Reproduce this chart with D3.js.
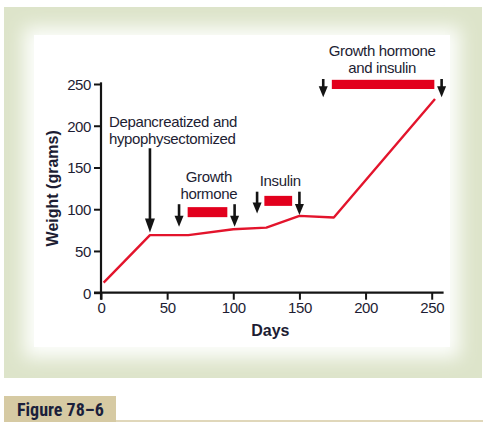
<!DOCTYPE html>
<html><head><meta charset="utf-8">
<script src="https://cdn.jsdelivr.net/npm/d3@7"></script>
<style>body{margin:0;background:#fff}svg{display:block}text{font-family:"Liberation Sans",Arial,sans-serif}</style>
</head><body>
<script>
// ---- data ----
const days    = [2, 37, 66, 100, 125, 150, 176, 252.5];
const weights = [12, 69, 69, 76, 78, 92, 90, 232];
const xTicks  = [0, 50, 100, 150, 200, 250];
const yTicks  = [0, 50, 100, 150, 200, 250];
// arrows: day, top weight, tip weight
const arrowDays = [37, 59, 101, 118, 150, 168, 257.5];
const arrowTops = [173, 106, 106, 121, 121, 256, 256];
const arrowTips = [72, 79, 79, 95, 93, 234, 234];
// treatment bars: start day, end day, low weight, high weight
const barStart = [65.5, 123.5, 174.5];
const barEnd   = [95.5, 144.5, 252];
const barLow   = [90.5, 104, 244];
const barHigh  = [102.5, 116, 255];
// annotation labels: day, weight (baseline of first line), lines
const labelDays = [6, 81.5, 135.5, 212.5];
const labelWts  = [199, 132.5, 127.5, 283];
const labelLines = [["Depancreatized and","hypophysectomized"],["Growth","hormone"],["Insulin"],["Growth hormone","and insulin"]];
const labelAnchor = ["start","middle","middle","middle"];

const W = 492, H = 424;
const svg = d3.select("body").append("svg").attr("width", W).attr("height", H);
const defs = svg.append("defs");
const f = defs.append("filter").attr("id","blur").attr("x","-10%").attr("y","-10%").attr("width","120%").attr("height","120%");
f.append("feGaussianBlur").attr("stdDeviation", 9);

// panel
svg.append("rect").attr("x",4).attr("y",7).attr("width",478).attr("height",371).attr("fill","#dde4ca");
svg.append("rect").attr("x",24).attr("y",27).attr("width",436).attr("height",331).attr("fill","#fdfefc").attr("filter","url(#blur)");
svg.append("rect").attr("x",34).attr("y",35).attr("width",416).attr("height",312).attr("fill","#ffffff");

// caption
svg.append("rect").attr("x",4).attr("y",396).attr("width",112).attr("height",26).attr("fill","#d6caa3");
svg.append("line").attr("x1",116).attr("x2",483).attr("y1",421).attr("y2",421).attr("stroke","#d6caa3").attr("stroke-width",1.5);
svg.append("text").attr("x",17).attr("y",416).attr("font-size",18).attr("font-weight","bold")
  .style("font-family",'"Liberation Sans Narrow","Roboto Condensed",Arial,sans-serif')
  .attr("fill","#1b1f3b").text("Figure 78\u20136");

const x = d3.scaleLinear().domain([0,250]).range([101,431.7]);
const y = d3.scaleLinear().domain([0,250]).range([292.7,84]);

const ink = "#141414", txt = "#1d1d33";

// axes
const xAxis = svg.append("g").attr("transform",`translate(0,${y(0)})`)
  .call(d3.axisBottom(x).tickValues(xTicks).tickSize(7).tickSizeOuter(0).tickPadding(3));
const yAxis = svg.append("g").attr("transform",`translate(${x(0)},0)`)
  .call(d3.axisLeft(y).tickValues(yTicks).tickSize(7).tickSizeOuter(0).tickPadding(3));
[xAxis,yAxis].forEach(g=>{
  g.select(".domain").remove();
  g.selectAll(".tick line").attr("stroke",ink).attr("stroke-width",2);
  g.selectAll(".tick text").attr("fill",txt).attr("font-size",15).style("letter-spacing","-0.4px");
});
yAxis.selectAll(".tick text").attr("dy","0.36em");
svg.append("line").attr("x1",x(0)-7).attr("x2",x(259)).attr("y1",y(0)).attr("y2",y(0)).attr("stroke",ink).attr("stroke-width",2.2);
svg.append("line").attr("x1",x(0)).attr("x2",x(0)).attr("y1",y(0)+7).attr("y2",y(252)).attr("stroke",ink).attr("stroke-width",2.2);

svg.append("text").attr("x",(x(0)+x(250))/2+4).attr("y",336).attr("text-anchor","middle")
  .attr("font-size",16).attr("font-weight","bold").attr("fill",txt).text("Days");
svg.append("text").attr("transform",`translate(58,${y(125)}) rotate(-90)`).attr("text-anchor","middle")
  .attr("font-size",16).attr("font-weight","bold").attr("fill",txt).text("Weight (grams)");

// line
const pts = days.map((d,i)=>[d,weights[i]]);
svg.append("path").datum(pts).attr("fill","none").attr("stroke","#e3142c").attr("stroke-width",2.4)
  .attr("stroke-linejoin","round").attr("d", d3.line().x(d=>x(d[0])).y(d=>y(d[1])));

// bars
svg.selectAll("rect.bar").data(barStart).join("rect").attr("class","bar")
  .attr("x",(d)=>x(d)).attr("width",(d,i)=>x(barEnd[i])-x(d))
  .attr("y",(d,i)=>y(barHigh[i])).attr("height",(d,i)=>y(barLow[i])-y(barHigh[i]))
  .attr("fill","#e2001d");

// arrows
arrowDays.forEach((d,i)=>{
  const ax = x(d), top = y(arrowTops[i]), tip = y(arrowTips[i]);
  const hl = i===0 ? 14 : 11, hw = i===0 ? 5 : 4.5;
  svg.append("line").attr("x1",ax).attr("x2",ax).attr("y1",top).attr("y2",tip-hl+1)
    .attr("stroke",ink).attr("stroke-width",2.6);
  svg.append("path").attr("d",`M${ax-hw},${tip-hl} L${ax+hw},${tip-hl} L${ax},${tip} Z`).attr("fill",ink);
});

// labels
labelLines.forEach((lines,i)=>{
  const t = svg.append("text").attr("x",x(labelDays[i])).attr("y",y(labelWts[i]))
    .attr("text-anchor",labelAnchor[i]).attr("font-size",15).attr("fill",txt).style("letter-spacing","-0.35px");
  lines.forEach((l,j)=>t.append("tspan").attr("x",x(labelDays[i])).attr("dy",j?17:0).text(l));
});
</script>
</body></html>
